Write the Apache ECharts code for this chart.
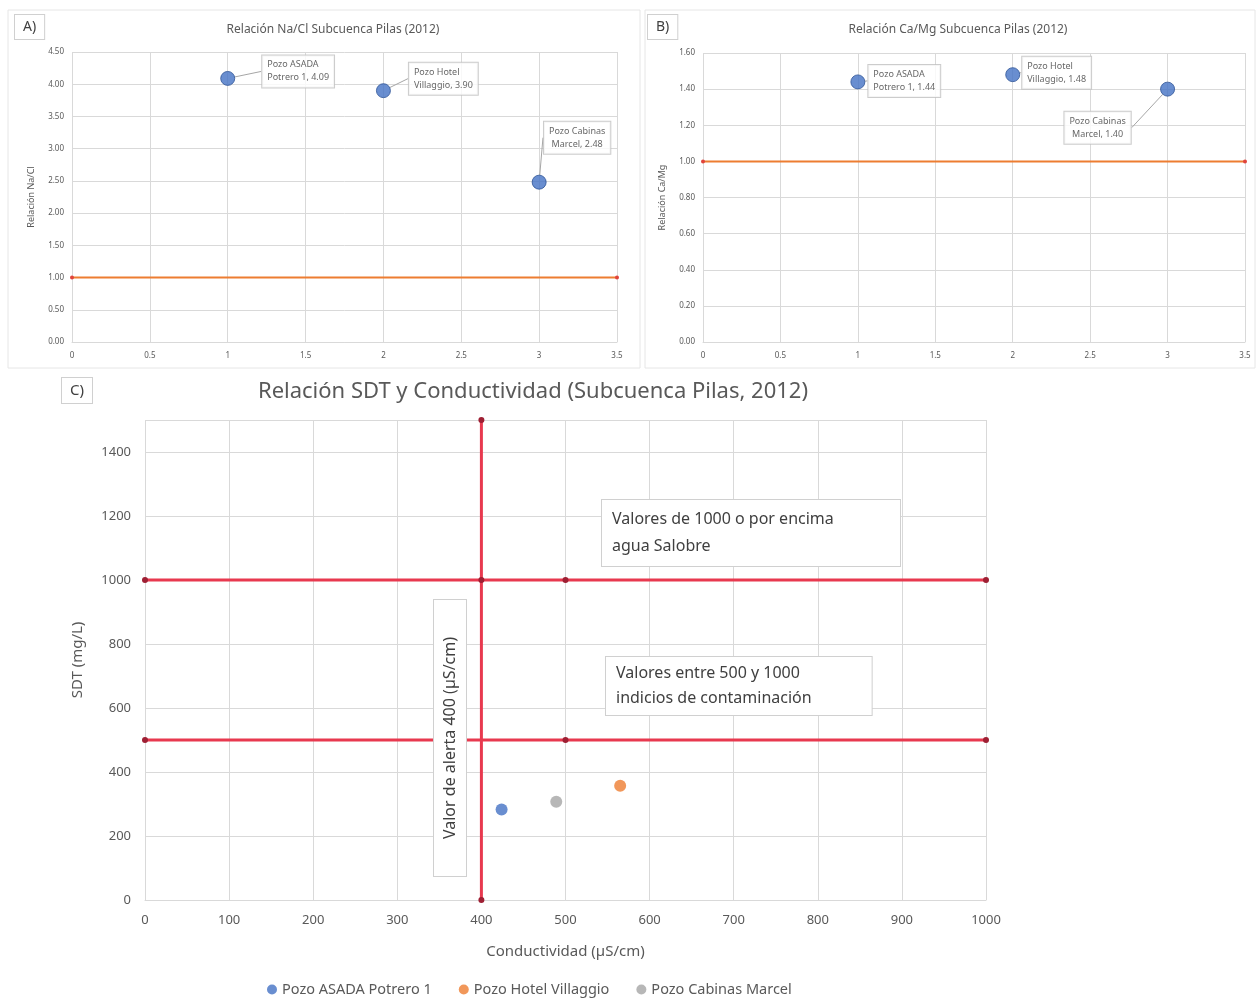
<!DOCTYPE html>
<html>
<head>
<meta charset="utf-8">
<script src="https://cdn.jsdelivr.net/npm/echarts@6/dist/echarts.min.js"></script>
<style>
html,body{margin:0;padding:0;background:#fff;}
#chart{width:1258px;height:1002px;}
</style>
</head>
<body>
<div id="chart"></div>
<script>
// ---- Data ----
var wells = ['Pozo ASADA Potrero 1', 'Pozo Hotel Villaggio', 'Pozo Cabinas Marcel'];
var wellLabelText = ['Pozo ASADA\nPotrero 1', 'Pozo Hotel\nVillaggio', 'Pozo Cabinas\nMarcel'];
var wellIndex = [1, 2, 3];
var naClRatio = [4.09, 3.90, 2.48];
var caMgRatio = [1.44, 1.48, 1.40];
var refRatioX = [0, 3.5];
var refRatioY = [1.00, 1.00];
var conductivity = [424, 565, 489];   // µS/cm
var sdt = [283, 357, 307];            // mg/L
var limit1000X = [0, 500, 1000];
var limit1000Y = [1000, 1000, 1000];
var limit500X = [0, 500, 1000];
var limit500Y = [500, 500, 500];
var alertX = [400, 400, 400];
var alertY = [0, 1000, 1500];

var FONT = '"Noto Sans", "Open Sans", sans-serif';
var txt = '#595959';
var gridCol = '#d9d9d9';
var wellColors = ['#4472C4', '#ED7D31', '#A5A5A5'];

function pairs(xs, ys) { return xs.map(function (x, i) { return [x, ys[i]]; }); }

var chart = echarts.init(document.getElementById('chart'), null, {renderer: 'canvas'});

// label offsets for A and B data labels
var layoutA = [
  {dx: 22, dy: -7}, {dx: 13, dy: -12}, {dx: 38, dy: -16}
];
var posA = ['right', 'right', 'top'];
var layoutB = [
  {dx: -2, dy: -1}, {dx: -3, dy: -2}, {dx: -70, dy: 10}
];
var posB = ['right', 'right', 'bottom'];

function ratioData(vals, pos) {
  return vals.map(function (v, i) {
    return {
      value: [wellIndex[i], v],
      name: wells[i],
      label: {position: pos[i]}
    };
  });
}

var dataLabel = {
  show: true,
  fontFamily: FONT,
  fontSize: 9,
  lineHeight: 13,
  color: '#404040',
  backgroundColor: '#fff',
  borderColor: '#bfbfbf',
  borderWidth: 1,
  padding: [3, 5]
};

function smallAxisX(gi) {
  return {
    type: 'value', gridIndex: gi, min: 0, max: 3.5, interval: 0.5,
    axisLine: {show: true, lineStyle: {color: gridCol}},
    axisTick: {show: false},
    axisLabel: {color: txt, fontSize: 8, fontFamily: FONT, margin: 10},
    splitLine: {show: true, lineStyle: {color: gridCol}}
  };
}
function smallAxisY(gi, max, interval, name) {
  return {
    type: 'value', gridIndex: gi, min: 0, max: max, interval: interval,
    name: name, nameLocation: 'middle', nameGap: 36,
    nameTextStyle: {color: txt, fontSize: 9, fontFamily: FONT},
    axisLine: {show: false}, axisTick: {show: false},
    axisLabel: {color: txt, fontSize: 8, fontFamily: FONT, formatter: function (v) { return v.toFixed(2); }},
    splitLine: {show: true, lineStyle: {color: gridCol}}
  };
}

var option = {
  backgroundColor: '#fff',
  animation: false,
  textStyle: {fontFamily: FONT},
  title: [
    {text: 'Relación Na/Cl Subcuenca Pilas (2012)', left: 328, top: 19, textAlign: 'center',
     textStyle: {fontSize: 12, fontWeight: 'normal', color: txt, fontFamily: FONT}},
    {text: 'Relación Ca/Mg Subcuenca Pilas (2012)', left: 953, top: 19, textAlign: 'center',
     textStyle: {fontSize: 12, fontWeight: 'normal', color: txt, fontFamily: FONT}},
    {text: 'Relación SDT y Conductividad (Subcuenca Pilas, 2012)', left: 528, top: 376, textAlign: 'center',
     textStyle: {fontSize: 22, fontWeight: 'normal', color: txt, fontFamily: FONT}}
  ],
  legend: {
    data: wells, left: 262, top: 977, itemGap: 27, icon: 'circle', itemWidth: 10, itemHeight: 10,
    textStyle: {color: txt, fontSize: 14.5, fontFamily: FONT}, itemStyle: {borderWidth: 0}
  },
  grid: [
    {left: 72, top: 52, width: 545, height: 290},
    {left: 703, top: 53, width: 542, height: 289},
    {left: 145, top: 420, width: 841, height: 480}
  ],
  xAxis: [
    smallAxisX(0),
    smallAxisX(1),
    {
      type: 'value', gridIndex: 2, min: 0, max: 1000, interval: 100,
      name: 'Conductividad (µS/cm)', nameLocation: 'middle', nameGap: 44,
      nameTextStyle: {color: txt, fontSize: 15, fontFamily: FONT},
      axisLine: {show: true, lineStyle: {color: gridCol}}, axisTick: {show: false},
      axisLabel: {color: txt, fontSize: 13, fontFamily: FONT, margin: 14, formatter: function (v) { return String(v); }},
      splitLine: {show: true, lineStyle: {color: gridCol}}
    }
  ],
  yAxis: [
    smallAxisY(0, 4.5, 0.5, 'Relación Na/Cl'),
    smallAxisY(1, 1.6, 0.2, 'Relación Ca/Mg'),
    {
      type: 'value', gridIndex: 2, min: 0, max: 1500, interval: 200,
      name: 'SDT (mg/L)', nameLocation: 'middle', nameGap: 60,
      nameTextStyle: {color: txt, fontSize: 15, fontFamily: FONT},
      axisLine: {show: false}, axisTick: {show: false},
      axisLabel: {color: txt, fontSize: 13, fontFamily: FONT, margin: 14, showMaxLabel: false, formatter: function (v) { return String(v); }},
      splitLine: {show: true, lineStyle: {color: gridCol}}
    }
  ],
  series: [
    // Panel A
    {
      type: 'line', xAxisIndex: 0, yAxisIndex: 0, data: pairs(refRatioX, refRatioY),
      symbol: 'circle', symbolSize: 4, itemStyle: {color: '#e0443c'},
      lineStyle: {color: '#ED7D31', width: 2}, silent: true, z: 2
    },
    {
      type: 'scatter', xAxisIndex: 0, yAxisIndex: 0, symbolSize: 14,
      itemStyle: {color: '#4472C4', borderColor: '#2f5597', borderWidth: 1},
      data: ratioData(naClRatio, posA),
      label: Object.assign({}, dataLabel, {
        formatter: function (p) { return wellLabelText[p.dataIndex] + ', ' + p.value[1].toFixed(2); }
      }),
      labelLine: {show: true, lineStyle: {color: '#a6a6a6', width: 1}},
      labelLayout: function (p) { return layoutA[p.dataIndex]; },
      z: 5
    },
    // Panel B
    {
      type: 'line', xAxisIndex: 1, yAxisIndex: 1, data: pairs(refRatioX, refRatioY),
      symbol: 'circle', symbolSize: 4, itemStyle: {color: '#e0443c'},
      lineStyle: {color: '#ED7D31', width: 2}, silent: true, z: 2
    },
    {
      type: 'scatter', xAxisIndex: 1, yAxisIndex: 1, symbolSize: 14,
      itemStyle: {color: '#4472C4', borderColor: '#2f5597', borderWidth: 1},
      data: ratioData(caMgRatio, posB),
      label: Object.assign({}, dataLabel, {
        formatter: function (p) { return wellLabelText[p.dataIndex] + ', ' + p.value[1].toFixed(2); }
      }),
      labelLine: {show: true, lineStyle: {color: '#a6a6a6', width: 1}},
      labelLayout: function (p) { return layoutB[p.dataIndex]; },
      z: 5
    },
    // Panel C limits
    {
      type: 'line', xAxisIndex: 2, yAxisIndex: 2, data: pairs(limit1000X, limit1000Y),
      symbol: 'circle', symbolSize: 6, itemStyle: {color: '#9e1f33'},
      lineStyle: {color: '#e8394f', width: 3}, silent: true, z: 3
    },
    {
      type: 'line', xAxisIndex: 2, yAxisIndex: 2, data: pairs(limit500X, limit500Y),
      symbol: 'circle', symbolSize: 6, itemStyle: {color: '#9e1f33'},
      lineStyle: {color: '#e8394f', width: 3}, silent: true, z: 3
    },
    {
      type: 'line', xAxisIndex: 2, yAxisIndex: 2, data: pairs(alertX, alertY),
      symbol: 'circle', symbolSize: 6, itemStyle: {color: '#9e1f33'},
      lineStyle: {color: '#e8394f', width: 3}, silent: true, z: 3
    }
  ].concat(wells.map(function (w, i) {
    return {
      type: 'scatter', name: w, xAxisIndex: 2, yAxisIndex: 2, symbolSize: 12,
      itemStyle: {color: wellColors[i]},
      data: [[conductivity[i], sdt[i]]], z: 6
    };
  })),
  graphic: [
    // panel frames
    {type: 'rect', shape: {x: 8, y: 10, width: 632, height: 358}, style: {fill: null, stroke: '#e6e6e6', lineWidth: 1}, silent: true},
    {type: 'rect', shape: {x: 645, y: 10, width: 610, height: 358}, style: {fill: null, stroke: '#e6e6e6', lineWidth: 1}, silent: true},
    // panel letters
    {type: 'text', x: 15, y: 15, style: {text: 'A)', font: '14px ' + FONT, fill: '#404040', backgroundColor: '#fff', borderColor: '#d0d0d0', borderWidth: 1, padding: [5, 8]}},
    {type: 'text', x: 648, y: 15, style: {text: 'B)', font: '14px ' + FONT, fill: '#404040', backgroundColor: '#fff', borderColor: '#d0d0d0', borderWidth: 1, padding: [5, 8]}},
    {type: 'text', x: 62, y: 378, style: {text: 'C)', font: '15px ' + FONT, fill: '#404040', backgroundColor: '#fff', borderColor: '#d0d0d0', borderWidth: 1, padding: [5, 8]}},
    // annotations panel C
    {type: 'text', x: 602, y: 500, z: 10, style: {text: 'Valores de 1000 o por encima\nagua Salobre', font: '16px ' + FONT, lineHeight: 27, fill: '#404040', backgroundColor: '#fff', borderColor: '#d0d0d0', borderWidth: 1, padding: [6, 30, 6, 10], width: 258}},
    {type: 'text', x: 606, y: 657, z: 10, style: {text: 'Valores entre 500 y 1000\nindicios de contaminación', font: '16px ' + FONT, lineHeight: 25, fill: '#404040', backgroundColor: '#fff', borderColor: '#d0d0d0', borderWidth: 1, padding: [4, 60, 4, 10]}},
    {type: 'text', x: 450, y: 738, rotation: Math.PI / 2, z: 10, style: {text: 'Valor de alerta 400 (µS/cm)', font: '16px ' + FONT, fill: '#404040', align: 'center', verticalAlign: 'middle', backgroundColor: '#fff', borderColor: '#d0d0d0', borderWidth: 1, padding: [8, 37, 8, 37]}}
  ]
};
chart.setOption(option);
</script>
</body>
</html>
